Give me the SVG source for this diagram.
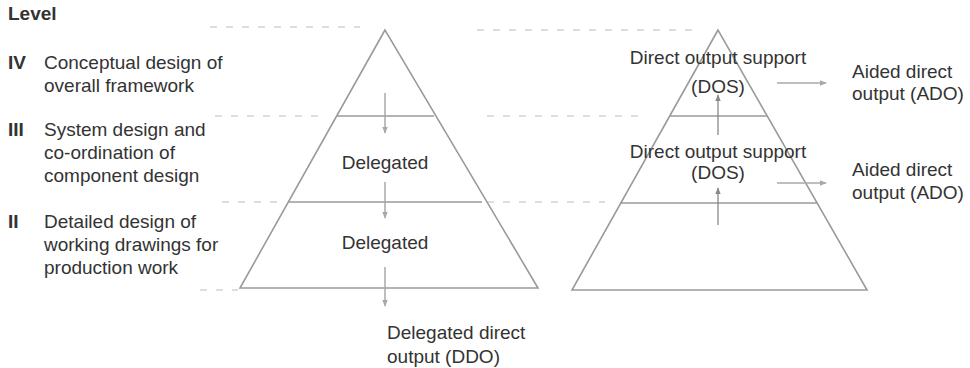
<svg xmlns="http://www.w3.org/2000/svg" width="970" height="368" viewBox="0 0 970 368">
<defs>
<style>
text{font-family:"Liberation Sans",Arial,sans-serif;font-size:19px;fill:#333}
.b{font-weight:bold}
.pyr{fill:none;stroke:#9a9a9a;stroke-width:1.6}
.lvl{stroke:#9a9a9a;stroke-width:1.6}
.dash{stroke:#d4d4d4;stroke-width:1.5;stroke-dasharray:7 9}
.arr{stroke:#a8a8a8;stroke-width:1.5;fill:none}
.arrd{stroke:#888;stroke-width:1.3;fill:none}
</style>
<marker id="ah" viewBox="0 0 10 10" refX="9" refY="5" markerWidth="7" markerHeight="7" orient="auto" markerUnits="userSpaceOnUse">
<path d="M0,1 L10,5 L0,9 z" fill="#a8a8a8"/>
</marker>
<marker id="ahd" viewBox="0 0 10 10" refX="9" refY="5" markerWidth="7" markerHeight="7" orient="auto" markerUnits="userSpaceOnUse">
<path d="M0,1 L10,5 L0,9 z" fill="#888"/>
</marker>
</defs>
<rect width="970" height="368" fill="#fff"/>

<g id="guides">
<line class="dash" x1="210" y1="27" x2="360" y2="27"/>
<line class="dash" x1="477" y1="30" x2="695" y2="30"/>
<line class="dash" x1="215" y1="116" x2="320" y2="116"/>
<line class="dash" x1="487" y1="116" x2="642" y2="116"/>
<line class="dash" x1="222" y1="202" x2="285" y2="202"/>
<line class="dash" x1="487" y1="202" x2="605" y2="202"/>
<line class="dash" x1="200" y1="290" x2="238" y2="290"/>
</g>

<g id="levels">
<text class="b" x="8" y="20">Level</text>
<g id="level-iv">
<text class="b" x="8" y="69">IV</text>
<text x="44" y="69">Conceptual design of</text>
<text x="44" y="92">overall framework</text>
</g>
<g id="level-iii">
<text class="b" x="8" y="136">III</text>
<text x="44" y="136">System design and</text>
<text x="44" y="159">co-ordination of</text>
<text x="44" y="182">component design</text>
</g>
<g id="level-ii">
<text class="b" x="8" y="228">II</text>
<text x="44" y="228">Detailed design of</text>
<text x="44" y="251">working drawings for</text>
<text x="44" y="274">production work</text>
</g>
</g>

<g id="left-pyramid">
<polygon class="pyr" points="385,30 240,288 538,288"/>
<line class="lvl" x1="337" y1="116" x2="434" y2="116"/>
<line class="lvl" x1="289" y1="202" x2="482" y2="202"/>
<text x="385" y="169" text-anchor="middle">Delegated</text>
<text x="385" y="249" text-anchor="middle">Delegated</text>
</g>

<g id="ddo">
<text x="387" y="339">Delegated direct</text>
<text x="387" y="363">output (DDO)</text>
</g>

<g id="right-pyramid">
<polygon class="pyr" points="718,30 572,290 867,290"/>
<line class="lvl" x1="670" y1="116" x2="767" y2="116"/>
<line class="lvl" x1="620" y1="203" x2="817" y2="203"/>
<text x="718" y="64" text-anchor="middle">Direct output support</text>
<text x="718" y="93" text-anchor="middle">(DOS)</text>
<text x="718" y="158" text-anchor="middle">Direct output support</text>
<text x="718" y="179" text-anchor="middle">(DOS)</text>
</g>

<g id="ado-1">
<text x="852" y="78">Aided direct</text>
<text x="852" y="100">output (ADO)</text>
</g>
<g id="ado-2">
<text x="852" y="176">Aided direct</text>
<text x="852" y="199">output (ADO)</text>
</g>

<g id="connectors">
<line class="arr" x1="385" y1="93" x2="385" y2="133" marker-end="url(#ah)"/>
<line class="arr" x1="385" y1="182" x2="385" y2="218" marker-end="url(#ah)"/>
<line class="arr" x1="385" y1="267" x2="385" y2="306" marker-end="url(#ah)"/>
<line class="arrd" x1="718" y1="135" x2="718" y2="95" marker-end="url(#ahd)"/>
<line class="arrd" x1="718" y1="225" x2="718" y2="188" marker-end="url(#ahd)"/>
<line class="arr" x1="777" y1="83" x2="826" y2="83" marker-end="url(#ah)"/>
<line class="arr" x1="777" y1="183" x2="826" y2="183" marker-end="url(#ah)"/>
</g>
</svg>
